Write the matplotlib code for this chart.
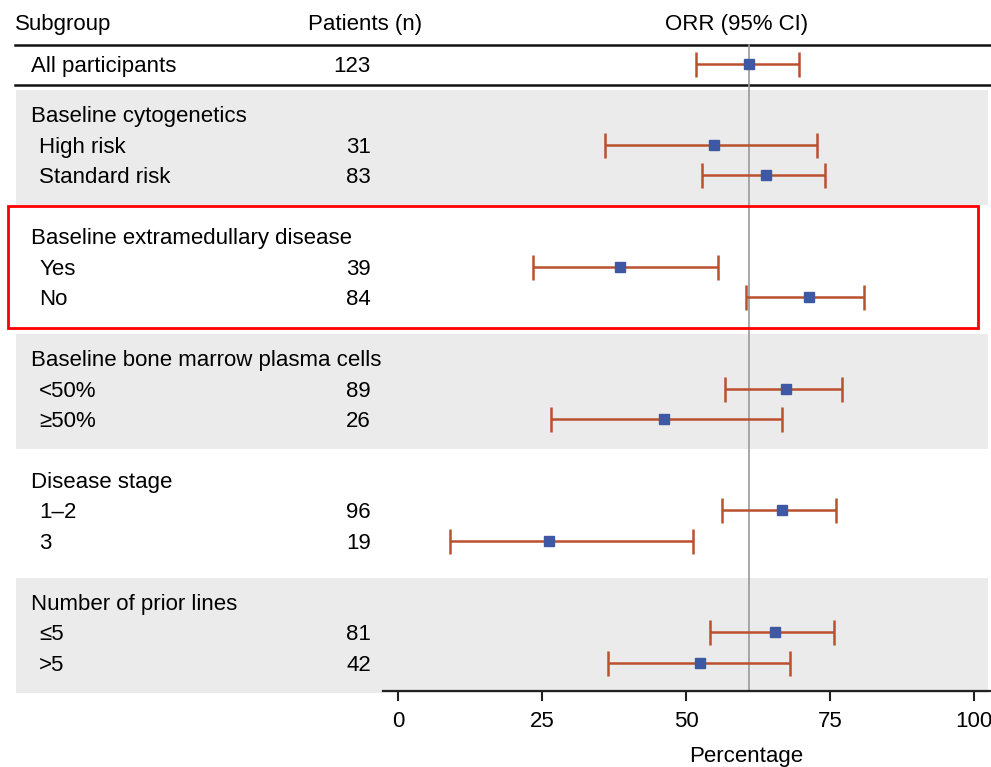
import matplotlib.pyplot as plt
from matplotlib.patches import Rectangle

plt.rcParams['font.family'] = ['Liberation Sans', 'DejaVu Sans']

# overall row
all_label = "All participants"
all_n = 123
all_orr = 61.0
all_lo = 51.8
all_hi = 69.6

groups = ["Baseline cytogenetics", "Baseline extramedullary disease",
          "Baseline bone marrow plasma cells", "Disease stage", "Number of prior lines"]
sub_labels = [["High risk", "Standard risk"], ["Yes", "No"], ["<50%", "≥50%"],
              ["1–2", "3"], ["≤5", ">5"]]
patients = [[31, 83], [39, 84], [89, 26], [96, 19], [81, 42]]
orr = [[54.8, 63.9], [38.5, 71.4], [67.4, 46.2], [66.7, 26.3], [65.4, 52.4]]
ci_lo = [[36.0, 52.7], [23.4, 60.5], [56.7, 26.6], [56.3, 9.1], [54.1, 36.4]]
ci_hi = [[72.7, 74.1], [55.5, 80.9], [77.1, 66.6], [76.0, 51.3], [75.7, 68.1]]
ref_orr = 61.0
xticks = [0, 25, 50, 75, 100]

bar_col = '#b9502e'
dot_col = '#3f58a3'
band_col = '#ebebeb'
fs = 16

fig = plt.figure(figsize=(9.91, 7.67), dpi=100)
ax = fig.add_axes([0, 0, 1, 1])
ax.set_xlim(-69.1, 102.95)
ax.set_ylim(23.05, -2.098)

x_left = -66.5
x_right = 102.8
x_main = -63.7
x_sub = -62.3
x_n = -4.7


def draw_row(y, est, lo, hi):
    ax.errorbar([est], [y], xerr=[[est - lo], [hi - est]], fmt='s', color=dot_col,
                ms=6.5, ecolor=bar_col, elinewidth=1.8, capsize=9, capthick=1.8, zorder=4)


# header
ax.text(x_left, -1.38, "Subgroup", fontsize=fs, va='center_baseline')
ax.text(-5.7, -1.38, "Patients (n)", fontsize=fs, va='center_baseline', ha='center')
ax.text(58.7, -1.38, "ORR (95% CI)", fontsize=fs, va='center_baseline', ha='center')
ax.plot([x_left, x_right], [-0.62, -0.62], color='#111111', lw=1.8, clip_on=False)
ax.plot([x_left, x_right], [0.69, 0.69], color='#111111', lw=1.8, clip_on=False)

ax.text(x_main, 0, all_label, fontsize=fs, va='center_baseline')
ax.text(x_n, 0, str(all_n), fontsize=fs, va='center_baseline', ha='right')
draw_row(0, all_orr, all_lo, all_hi)

cur = 1.64
last_y = 0
for i, g in enumerate(groups):
    y_head = cur
    y_last = cur + len(sub_labels[i])
    if i % 2 == 0:
        ax.add_patch(Rectangle((-66.3, y_head - 0.78), 168.7, y_last - y_head + 0.78 + 0.98,
                               facecolor=band_col, edgecolor='none', zorder=0))
    if i == 1:
        ax.add_patch(Rectangle((-67.7, y_head - 1.0), 168.4, y_last - y_head + 2.0,
                               facecolor='none', edgecolor='#ff0000', lw=2, zorder=5,
                               clip_on=False))
    ax.text(x_main, y_head, g, fontsize=fs, va='center_baseline')
    for j, lab in enumerate(sub_labels[i]):
        y = y_head + j + 1
        ax.text(x_sub, y, lab, fontsize=fs, va='center_baseline')
        ax.text(x_n, y, str(patients[i][j]), fontsize=fs, va='center_baseline', ha='right')
        draw_row(y, orr[i][j], ci_lo[i][j], ci_hi[i][j])
    last_y = y_last
    cur = y_last + 2

axis_y = last_y + 0.92
ax.plot([ref_orr, ref_orr], [-0.62, axis_y], color='#999999', lw=1.2, zorder=2)

for s in ['top', 'left', 'right']:
    ax.spines[s].set_visible(False)
ax.spines['bottom'].set_position(('data', axis_y))
ax.spines['bottom'].set_bounds(-2.6, 102.95)
ax.spines['bottom'].set_linewidth(1.6)
ax.spines['bottom'].set_color('#222222')
ax.set_yticks([])
ax.set_xticks(xticks)
ax.tick_params(axis='x', length=7.5, width=1.5, pad=7, labelsize=fs, color='#222222')
ax.text(60.5, axis_y + 2.05, "Percentage", fontsize=fs, ha='center', va='center_baseline')

fig.savefig('out.png', dpi=100)
